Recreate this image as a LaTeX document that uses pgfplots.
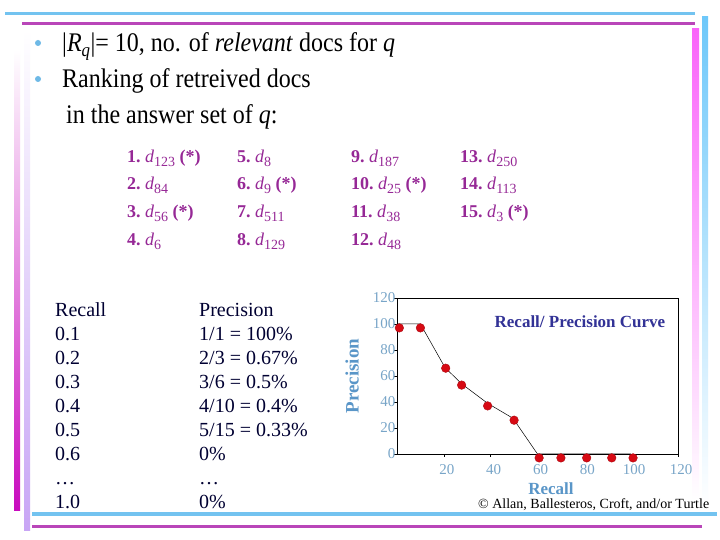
\documentclass[border=0pt]{standalone}
\usepackage{fontspec}
\setmainfont{Liberation Serif}
\usepackage{pgfplots}
\pgfplotsset{compat=1.18}

\definecolor{slidecyan}{RGB}{115,195,240}
\definecolor{slidemag}{RGB}{185,70,185}
\definecolor{barpink}{RGB}{250,100,250}
\definecolor{barcyan}{RGB}{110,200,250}
\definecolor{barleftmag}{RGB}{200,10,190}
\definecolor{barlav}{RGB}{200,165,245}
\definecolor{bulletblue}{RGB}{110,185,230}
\definecolor{docpurple}{RGB}{150,40,150}
\definecolor{navy}{RGB}{0,0,50}
\definecolor{ticklab}{RGB}{120,165,200}
\definecolor{axlab}{RGB}{90,150,200}
\definecolor{titleblue}{RGB}{50,50,150}
\definecolor{dotred}{RGB}{215,10,20}

\newcommand{\doc}[3]{\textbf{#1.}~\textit{d}\raisebox{-4pt}{\fontsize{14}{14}\selectfont #2}#3}

\begin{document}
\begin{tikzpicture}[x=1pt,y=1pt]
\path[use as bounding box, fill=white] (0,0) rectangle (720,540);

% slide frame
\draw[slidecyan, line width=3pt] (5,526) -- (695,526);
\draw[slidemag, line width=3pt] (22,516) -- (695,516);
\shade[top color=barpink, bottom color=white] (692,40) rectangle (699,511);
\shade[top color=barcyan, bottom color=white] (702,35) rectangle (708,523);
\shade[top color=white, bottom color=barleftmag] (14,29) rectangle (20,490);
\shade[top color=white, bottom color=barlav] (24,9) rectangle (30,510);
\draw[slidecyan, line width=3.5pt] (32,26) -- (717,26);
\draw[slidemag, line width=3pt] (32,13) -- (702,13);

% bullets
\fill[bulletblue] (38,497) circle (3);
\fill[bulletblue] (38,461) circle (3);
\begin{scope}[every node/.style={anchor=base west, inner sep=0pt, yscale=1.12, font=\fontsize{24}{28}\selectfont}]
\node at (62,488) {|\textit{R}\textsubscript{\textit{q}}|= 10, no. of \textit{relevant} docs for \textit{q}};
\node at (62,452) {Ranking of retreived docs};
\node at (66,416) {in the answer set of \textit{q}:};
\end{scope}

% ranked documents
\begin{scope}[every node/.style={anchor=base west, inner sep=0pt, text=docpurple, font=\fontsize{18}{20}\selectfont}]
\node at (127,377) {\doc{1}{123}{ \textbf{(*)}}};
\node at (127,350) {\doc{2}{84}{}};
\node at (127,322) {\doc{3}{56}{ \textbf{(*)}}};
\node at (127,294) {\doc{4}{6}{}};
\node at (237,377) {\doc{5}{8}{}};
\node at (237,350) {\doc{6}{9}{ \textbf{(*)}}};
\node at (237,322) {\doc{7}{511}{}};
\node at (237,294) {\doc{8}{129}{}};
\node at (351,377) {\doc{9}{187}{}};
\node at (351,350) {\doc{10}{25}{ \textbf{(*)}}};
\node at (351,322) {\doc{11}{38}{}};
\node at (351,294) {\doc{12}{48}{}};
\node at (460,377) {\doc{13}{250}{}};
\node at (460,350) {\doc{14}{113}{}};
\node at (460,322) {\doc{15}{3}{ \textbf{(*)}}};
\end{scope}

% recall / precision table
\begin{scope}[every node/.style={anchor=base west, inner sep=0pt, text=navy, font=\fontsize{20}{24}\selectfont}]
\node at (55,223) {Recall};   \node at (199,223) {Precision};
\node at (55,199) {0.1};      \node at (199,199) {1/1 = 100\%};
\node at (55,175) {0.2};      \node at (199,175) {2/3 = 0.67\%};
\node at (55,151) {0.3};      \node at (199,151) {3/6 = 0.5\%};
\node at (55,127) {0.4};      \node at (199,127) {4/10 = 0.4\%};
\node at (55,103) {0.5};      \node at (199,103) {5/15 = 0.33\%};
\node at (55,79) {0.6};       \node at (199,79) {0\%};
\node at (55,55) {…};         \node at (199,55) {…};
\node at (55,31) {1.0};       \node at (199,31) {0\%};
\end{scope}

\begin{axis}[
  at={(397pt,86pt)}, anchor=south west,
  scale only axis, width=281pt, height=156pt,
  xmin=0, xmax=120, ymin=0, ymax=120,
  xtick={20,40,...,120}, ytick={0,20,...,120},
  xtick pos=bottom, ytick pos=left, tick align=outside,
  major tick length=3pt,
  axis line style={line width=0.8pt},
  every tick/.style={black, line width=0.6pt},
  clip=false,
  /pgf/number format/assume math mode=true,
  ticklabel style={font=\fontsize{15}{15}\selectfont, text=ticklab},
  xticklabel style={yshift=-4pt, xshift=3pt},
  yticklabel style={xshift=5pt},
  xlabel={Recall}, ylabel={Precision},
  label style={font=\bfseries\fontsize{17}{17}\selectfont, text=axlab},
  xlabel style={at={(axis description cs:0.548,-0.224)}, anchor=center},
  ylabel style={at={(axis description cs:-0.16,0.5)}, anchor=center,
    font=\bfseries\fontsize{19}{19}\selectfont},
]
\addplot[black, line width=0.5pt, mark=none] coordinates {
  (0,100) (10,100) (20.5,66.5) (27.6,54) (38.7,39) (49.5,27.5) (60,0) (100,0)};
\addplot[only marks, mark=*, mark size=4.3pt,
  mark options={fill=dotred, draw=dotred!80!black}] coordinates {
  (1,97) (10,97) (20.8,66) (27.6,53) (38.7,37) (50,26)
  (60.7,-3) (70,-3) (81,-3) (91.7,-3) (100.8,-3)};
\node[font=\bfseries\fontsize{17}{17}\selectfont, text=titleblue]
  at (axis description cs:0.651,0.846) {Recall/ Precision Curve};
\end{axis}

\node[anchor=base west, inner sep=0pt, font=\fontsize{14}{14}\selectfont]
  at (478,31) {© Allan, Ballesteros, Croft, and/or Turtle};
\end{tikzpicture}
\end{document}
